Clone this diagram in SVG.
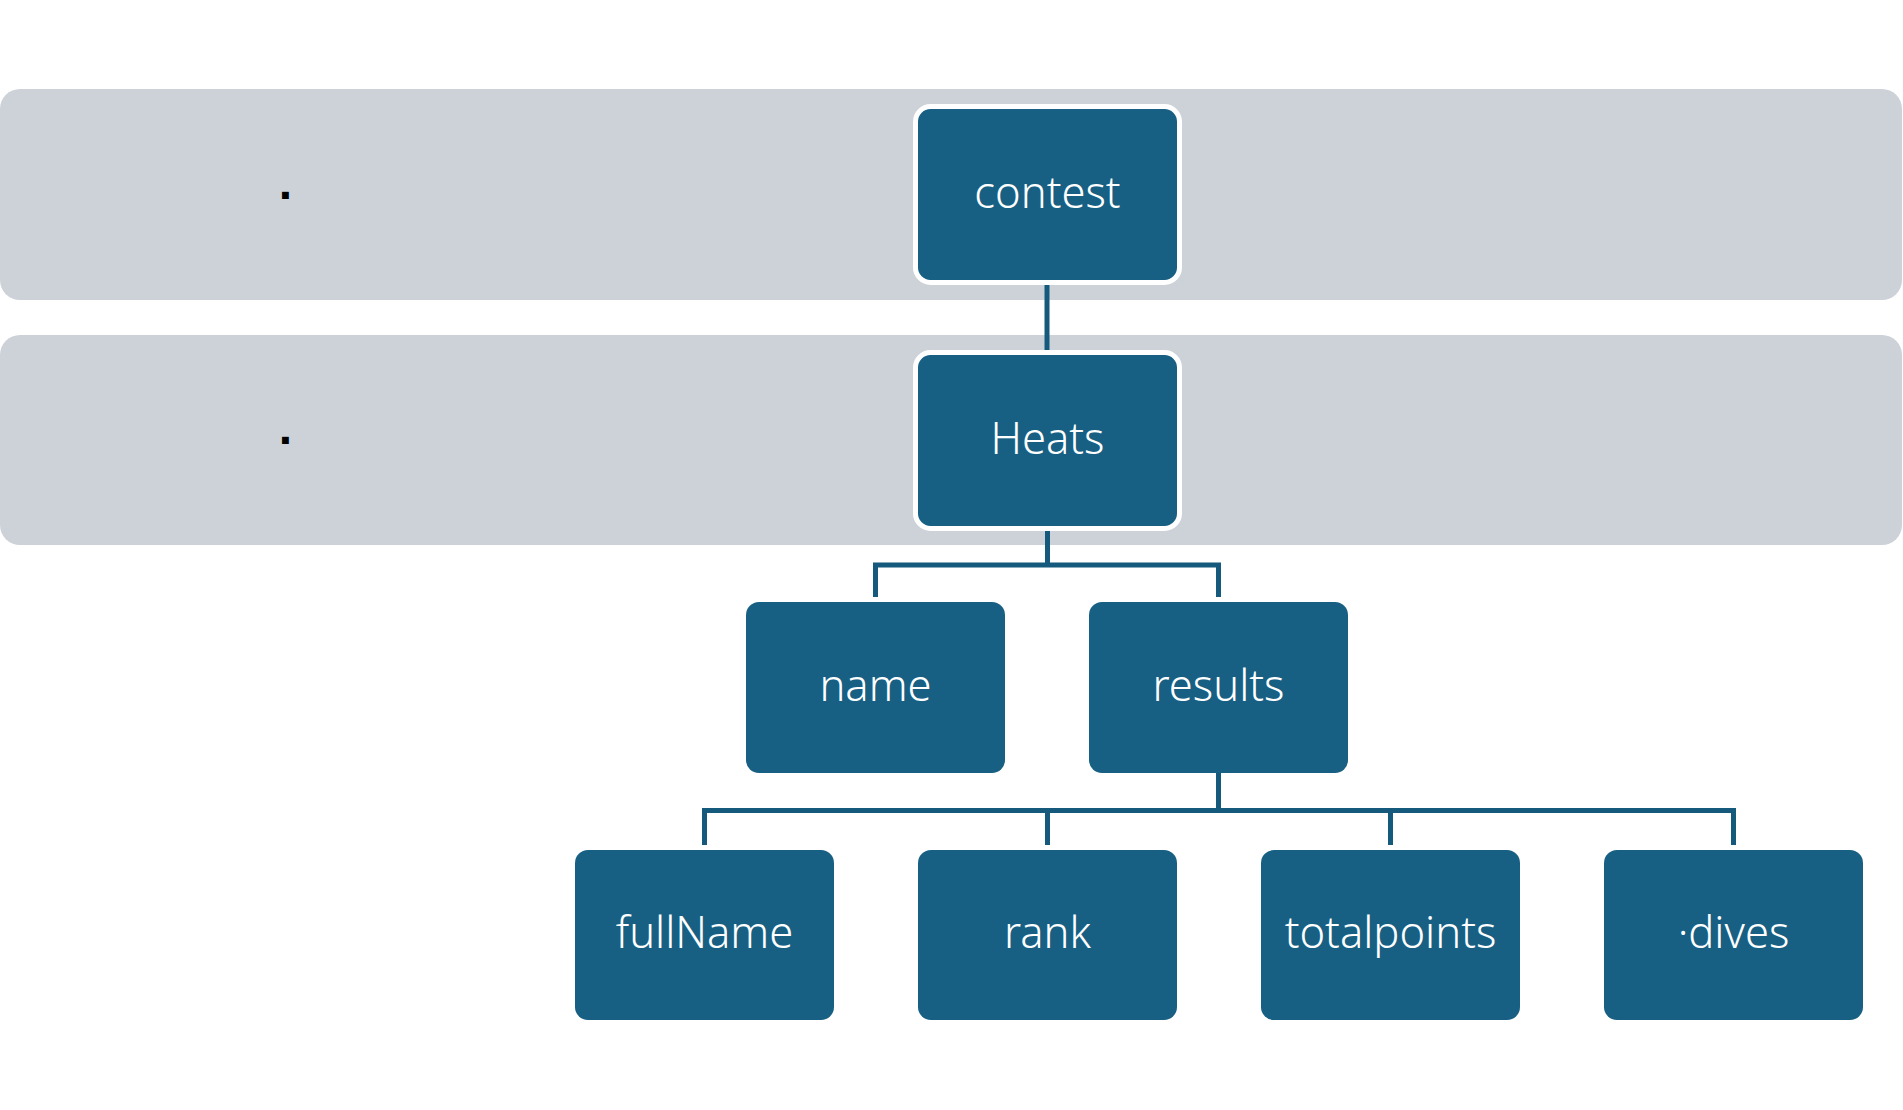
<svg xmlns="http://www.w3.org/2000/svg" width="1903" height="1110" viewBox="0 0 1903 1110">
<style>
.band{fill:#cdd2d9}
.node{fill:#176083}
.top{stroke:#ffffff;stroke-width:5}
.lbl{fill:#ffffff;font-family:"Noto Sans","Open Sans",sans-serif;font-size:43.5px;font-weight:300;text-anchor:middle}
.dot{fill:#000000;font-family:"Liberation Sans",Arial,sans-serif;font-size:48px;font-weight:bold;text-anchor:middle}
.conn{fill:none;stroke:#155a7c;stroke-width:5;stroke-linejoin:miter;stroke-linecap:butt}
</style>
<rect width="1903" height="1110" fill="#ffffff"/>
<g id="band1">
<rect class="band" x="0" y="89" width="1902" height="211" rx="20"/>
<text class="dot" x="285.5" y="199">.</text>
</g>
<g id="band2">
<rect class="band" x="0" y="335" width="1902" height="210" rx="20"/>
<text class="dot" x="285.5" y="444">.</text>
</g>
<g id="connectors">
<path class="conn" d="M1047 282 V355"/>
<path class="conn" d="M1047.5 528 V565 M875.5 597 V565 H1218.5 V597"/>
<path class="conn" d="M1218.5 773 V810.5 M704.5 845 V810.5 H1733.5 V845 M1047.5 810.5 V845 M1390.5 810.5 V845"/>
</g>
<g id="contest">
<rect class="node top" x="915.5" y="106.5" width="264" height="176" rx="15"/>
<text class="lbl" x="1047.5" y="208">contest</text>
</g>
<g id="heats">
<rect class="node top" x="915.5" y="352.5" width="264" height="176" rx="15"/>
<text class="lbl" x="1047.5" y="454">Heats</text>
</g>
<g id="name">
<rect class="node" x="746" y="602" width="259" height="171" rx="13"/>
<text class="lbl" x="875.5" y="701">name</text>
</g>
<g id="results">
<rect class="node" x="1089" y="602" width="259" height="171" rx="13"/>
<text class="lbl" x="1218.5" y="701">results</text>
</g>
<g id="fullName">
<rect class="node" x="575" y="850" width="259" height="170" rx="13"/>
<text class="lbl" x="704.5" y="948">fullName</text>
</g>
<g id="rank">
<rect class="node" x="918" y="850" width="259" height="170" rx="13"/>
<text class="lbl" x="1047.5" y="948">rank</text>
</g>
<g id="totalpoints">
<rect class="node" x="1261" y="850" width="259" height="170" rx="13"/>
<text class="lbl" x="1390.5" y="948">totalpoints</text>
</g>
<g id="dives">
<rect class="node" x="1604" y="850" width="259" height="170" rx="13"/>
<text class="lbl" x="1733.5" y="948">·dives</text>
</g>
</svg>
